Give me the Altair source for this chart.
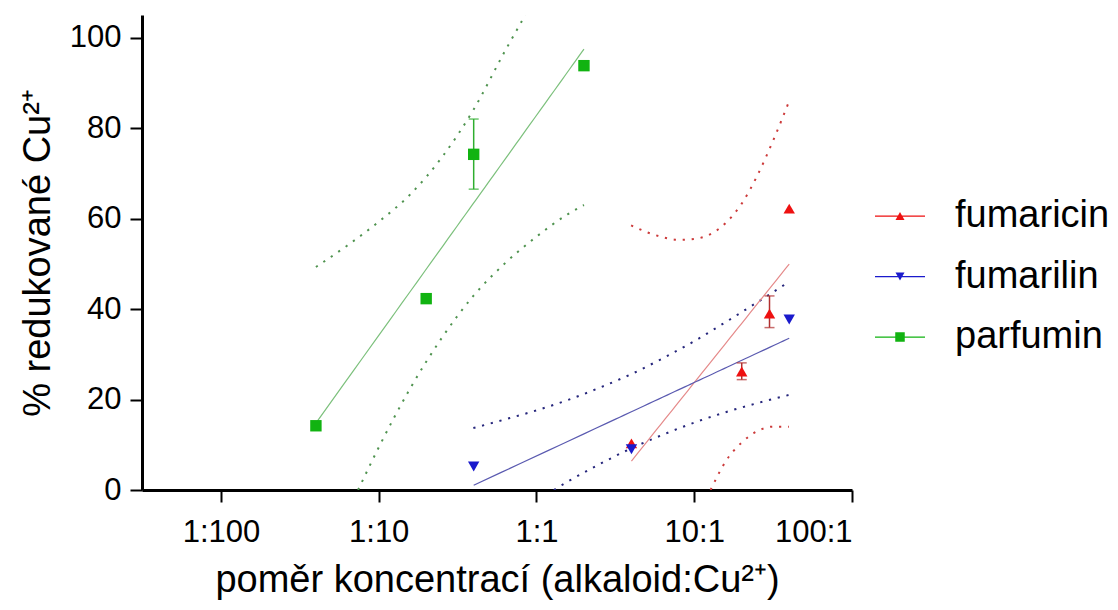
import json
import altair as alt
import pandas as pd

# ---------------- data ----------------
series_names = ["fumaricin", "fumarilin", "parfumin"]

fumaricin_ratio = [4, 20, 30, 40]
fumaricin_value = [10.3, 26.2, 39.0, 62.2]
fumarilin_ratio = [0.4, 4, 40]
fumarilin_value = [5.2, 9.0, 37.7]
parfumin_ratio = [0.04, 0.2, 0.4, 2]
parfumin_value = [14.2, 42.3, 74.2, 93.8]

err_series = ["parfumin", "fumaricin", "fumaricin"]
err_ratio = [0.4, 20, 30]
err_low = [66.5, 24.4, 35.9]
err_high = [82.0, 28.1, 42.9]

# 95 % confidence bands of the fits
fumaricin_upper_ratio = [3.98, 5.01, 6.31, 7.94, 10.0, 12.6, 15.8, 20.0, 25.1, 31.6, 39.8]
fumaricin_upper_value = [58.5, 57.0, 55.9, 55.3, 55.5, 56.5, 59.0, 63.3, 69.5, 77.2, 85.8]
fumaricin_lower_ratio = [12.7, 15.8, 20.0, 25.1, 31.6, 39.8]
fumaricin_lower_value = [0.0, 6.3, 10.5, 13.0, 14.0, 14.0]
fumarilin_upper_ratio = [0.398, 0.631, 1.0, 1.585, 2.51, 3.98, 6.31, 10.0, 15.8, 25.1, 39.8]
fumarilin_upper_value = [13.7, 15.6, 17.6, 19.9, 22.6, 25.6, 29.1, 32.9, 37.1, 41.5, 46.0]
fumarilin_lower_ratio = [1.29, 1.585, 2.51, 3.98, 6.31, 10.0, 15.8, 25.1, 39.8]
fumarilin_lower_value = [0.0, 1.9, 5.7, 9.2, 12.2, 14.9, 17.2, 19.2, 21.0]
parfumin_upper_ratio = [0.04, 0.063, 0.1, 0.158, 0.251, 0.398, 0.631, 0.85]
parfumin_upper_value = [49.3, 54.0, 59.3, 65.3, 73.5, 84.0, 97.0, 105.0]
parfumin_lower_ratio = [0.074, 0.1, 0.158, 0.251, 0.398, 0.631, 1.0, 1.585, 2.0]
parfumin_lower_value = [0.0, 9.4, 22.4, 33.6, 42.9, 50.1, 56.0, 61.0, 63.0]

x_domain = [0.00316, 100]
x_tick_values = [0.01, 0.1, 1, 10, 100]
x_tick_labels = ["1:100", "1:10", "1:1", "10:1", "100:1"]
y_domain = [0, 105]
y_tick_values = [0, 20, 40, 60, 80, 100]

# ---------------- styles ----------------
marker_colors = ["#ee1111", "#1a1acc", "#11b311"]
fit_colors = ["#e58a8a", "#5a5ab0", "#7cc07c"]
band_colors = ["#cc3a3a", "#26267c", "#4f934f"]
err_colors = ["#b03030", "#303080", "#2fae2f"]
marker_shapes = ["triangle-up", "triangle-down", "square"]
legend_shapes = [
    "M-1,-0.025H1V0.025H-1Z M-0.18,0.16L0,-0.16L0.18,0.16Z",
    "M-1,-0.025H1V0.025H-1Z M-0.18,-0.16L0.18,-0.16L0,0.16Z",
    "M-1,-0.025H1V0.025H-1Z M-0.19,-0.19H0.19V0.19H-0.19Z",
]
font = "Liberation Sans"

# ---------------- tables ----------------
pts = {
    "fumaricin": (fumaricin_ratio, fumaricin_value),
    "fumarilin": (fumarilin_ratio, fumarilin_value),
    "parfumin": (parfumin_ratio, parfumin_value),
}
points_df = pd.DataFrame(
    [{"series": s, "ratio": r, "value": v} for s, (rs, vs) in pts.items() for r, v in zip(rs, vs)]
)

bands = [
    ("fumaricin", "upper", fumaricin_upper_ratio, fumaricin_upper_value),
    ("fumaricin", "lower", fumaricin_lower_ratio, fumaricin_lower_value),
    ("fumarilin", "upper", fumarilin_upper_ratio, fumarilin_upper_value),
    ("fumarilin", "lower", fumarilin_lower_ratio, fumarilin_lower_value),
    ("parfumin", "upper", parfumin_upper_ratio, parfumin_upper_value),
    ("parfumin", "lower", parfumin_lower_ratio, parfumin_lower_value),
]
band_df = pd.DataFrame(
    [{"series": s, "band": s + b, "ratio": r, "value": v} for s, b, rs, vs in bands for r, v in zip(rs, vs)]
)

err_df = pd.DataFrame({"series": err_series, "ratio": err_ratio, "low": err_low, "high": err_high})
legend_df = pd.DataFrame({"series": series_names})

# ---------------- encodings ----------------
label_expr = f"{json.dumps(x_tick_labels)}[indexof({json.dumps(x_tick_values)}, datum.value)]"
x_axis = alt.Axis(values=x_tick_values, labelExpr=label_expr,
                  title="poměr koncentrací (alkaloid:Cu²⁺)", labelPadding=15, titlePadding=14)
y_axis = alt.Axis(values=y_tick_values, title="% redukované Cu²⁺", labelPadding=9, titlePadding=12)
x_scale = alt.Scale(type="log", domain=x_domain, nice=False)
y_scale = alt.Scale(domain=y_domain, nice=False, zero=False)

X = alt.X("ratio:Q", scale=x_scale, axis=x_axis)
Y = alt.Y("value:Q", scale=y_scale, axis=y_axis)


def col(rng, legend=None):
    return alt.Color("series:N", scale=alt.Scale(domain=series_names, range=rng), legend=legend)


band_layer = alt.Chart(band_df).mark_line(
    strokeDash=[2.2, 6.8], strokeWidth=2, clip=True, interpolate="monotone"
).encode(x=X, y=Y, color=col(band_colors), detail="band:N")

fit_layer = alt.Chart(points_df).transform_regression(
    "ratio", "value", method="log", groupby=["series"]
).mark_line(strokeWidth=1.2, clip=True).encode(x=X, y=Y, color=col(fit_colors))

err_rule = alt.Chart(err_df).mark_rule(strokeWidth=1.5).encode(
    x=X, y=alt.Y("low:Q", scale=y_scale, axis=y_axis), y2="high:Q", color=col(err_colors)
)
err_cap = alt.Chart(err_df).transform_fold(["low", "high"], as_=["end", "value"]).mark_tick(
    orient="horizontal", size=10, thickness=1.5
).encode(x=X, y=Y, color=col(err_colors))

point_layer = alt.Chart(points_df).mark_point(filled=True, size=130, opacity=1).encode(
    x=X, y=Y, color=col(marker_colors),
    shape=alt.Shape("series:N", scale=alt.Scale(domain=series_names, range=marker_shapes), legend=None),
)

leg = alt.Legend(
    title=None, orient="none", legendX=733, legendY=176, padding=0,
    labelFont=font, labelFontSize=38, labelColor="black", labelOffset=30,
    symbolSize=2500, symbolStrokeWidth=0, rowPadding=16.5,
)
legend_layer = alt.Chart(legend_df).mark_point(filled=True, opacity=1, clip=True).encode(
    x=alt.value(-300), y=alt.value(-300),
    color=col(marker_colors, leg),
    shape=alt.Shape("series:N", scale=alt.Scale(domain=series_names, range=legend_shapes), legend=leg),
)

chart = (
    alt.layer(band_layer, fit_layer, err_rule, err_cap, point_layer, legend_layer)
    .resolve_scale(color="independent", shape="independent")
    .properties(
        width=710, height=475,
        autosize=alt.AutoSizeParams(type="none"),
        padding={"left": 134, "top": 7, "right": 258, "bottom": 112},
    )
    .configure(font=font)
    .configure_view(stroke=None)
    .configure_axis(
        grid=False, domainColor="black", domainWidth=3, tickColor="black", tickWidth=2, tickSize=12,
        labelFont=font, labelFontSize=31, labelColor="black",
        titleFont=font, titleFontSize=38, titleFontWeight="normal", titleColor="black",
    )
)

chart.save("out.html", embed_options={"renderer": "svg", "actions": False})
